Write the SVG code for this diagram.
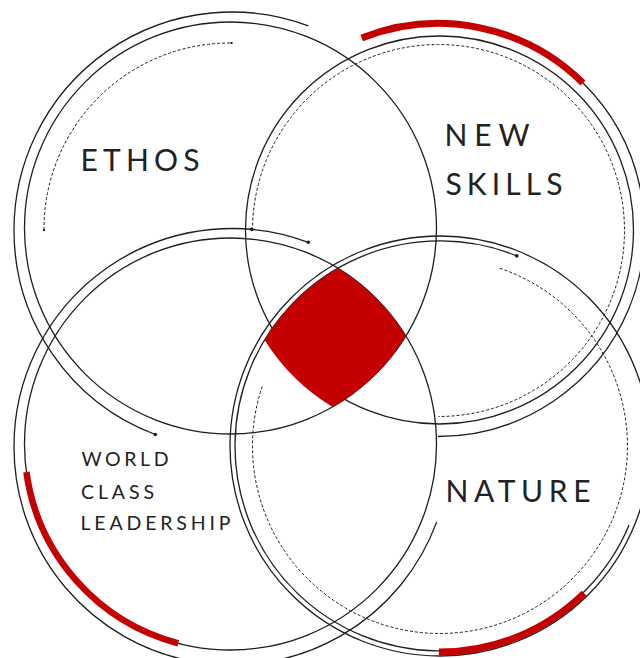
<svg xmlns="http://www.w3.org/2000/svg" width="640" height="658" viewBox="0 0 640 658">
  <style>
    .ring { fill: none; stroke: #1e1e1e; stroke-width: 1.3; }
    .dash { fill: none; stroke: #1e1e1e; stroke-width: 1; stroke-dasharray: 3 2; }
    .accent { fill: none; stroke: #c40000; stroke-linecap: butt; }
    .dot { fill: #1e1e1e; }
    .core { fill: #c40000; }
    .big { font-family: "Lato", "Liberation Sans", sans-serif; font-size: 30px; fill: #222; }
    .small { font-family: "Lato", "Liberation Sans", sans-serif; font-size: 19.5px; fill: #222; }
  </style>
  <rect width="640" height="658" fill="#ffffff"/>

  <!-- ETHOS: upper-left circle -->
  <g id="node-ethos">
    <circle class="ring" cx="230.5" cy="228" r="206"/>
    <path class="ring" d="M 308.3 25.8 A 218 218 0 0 0 14 230 A 218 218 0 0 0 155.3 434.5"/>
    <path class="dash" d="M 44 230 A 186 186 0 0 1 231.5 43"/>
    <circle class="dot" cx="155.3" cy="434.5" r="1.8"/>
    <rect class="dot" x="43" y="229" width="2" height="2"/>
    <rect class="dot" x="230.5" y="42" width="2" height="2"/>
    <text class="big" x="80.5" y="171" textLength="119" lengthAdjust="spacing">ETHOS</text>
  </g>

  <!-- NEW SKILLS: upper-right circle -->
  <g id="node-new-skills">
    <circle class="ring" cx="439.5" cy="230" r="194"/>
    <path class="dash" d="M 252.5 230.5 A 186 186 0 1 1 438.5 416.5"/>
    <path class="ring" d="M 583 83 A 206.5 206.5 0 0 1 438 436.5"/>
    <path class="accent" stroke-width="7" d="M 361.7 38.1 A 206.5 206.5 0 0 1 583 83"/>
    <circle class="dot" cx="251.8" cy="229.4" r="1.8"/>
    <text class="big" x="444.5" y="146" textLength="85" lengthAdjust="spacing">NEW</text>
    <text class="big" x="445.5" y="195" textLength="117" lengthAdjust="spacing">SKILLS</text>
  </g>

  <!-- WORLD CLASS LEADERSHIP: lower-left circle -->
  <g id="node-leadership">
    <circle class="ring" cx="230.5" cy="444" r="206"/>
    <path class="ring" d="M 308.3 242.3 A 218 218 0 0 0 14 447 A 218 218 0 0 0 436.7 521.9"/>
    <path class="accent" stroke-width="6.5" d="M 178.2 643.3 A 206 206 0 0 1 26.4 472"/>
    <circle class="dot" cx="308.3" cy="242.3" r="1.8"/>
    <text class="small" x="81.5" y="466" textLength="87" lengthAdjust="spacing">WORLD</text>
    <text class="small" x="81" y="499" textLength="73" lengthAdjust="spacing">CLASS</text>
    <text class="small" x="80.5" y="530" textLength="150" lengthAdjust="spacing">LEADERSHIP</text>
  </g>

  <!-- NATURE: lower-right circle -->
  <g id="node-nature">
    <circle class="ring" cx="440" cy="446" r="210"/>
    <path class="ring" d="M 629.1 525.1 A 205 205 0 1 1 516.8 255.9"/>
    <path class="dash" d="M 499.8 268.3 A 187.5 187.5 0 1 1 262.9 384.3"/>
    <path class="accent" stroke-width="7" d="M 584.1 593.2 A 206 206 0 0 1 438.9 652"/>
    <circle class="dot" cx="516.8" cy="255.9" r="1.8"/>
    <text class="big" x="445.5" y="502" textLength="145" lengthAdjust="spacing">NATURE</text>
  </g>

  <!-- shared core where all four circles overlap -->
  <g id="node-core">
    <path class="core" d="M 337.9 268.2 A 206 206 0 0 1 405.9 336 A 206 206 0 0 1 332.6 406.9 A 206.5 206.5 0 0 1 264.6 339.9 A 205 205 0 0 1 337.9 268.2 Z"/>
  </g>
</svg>
